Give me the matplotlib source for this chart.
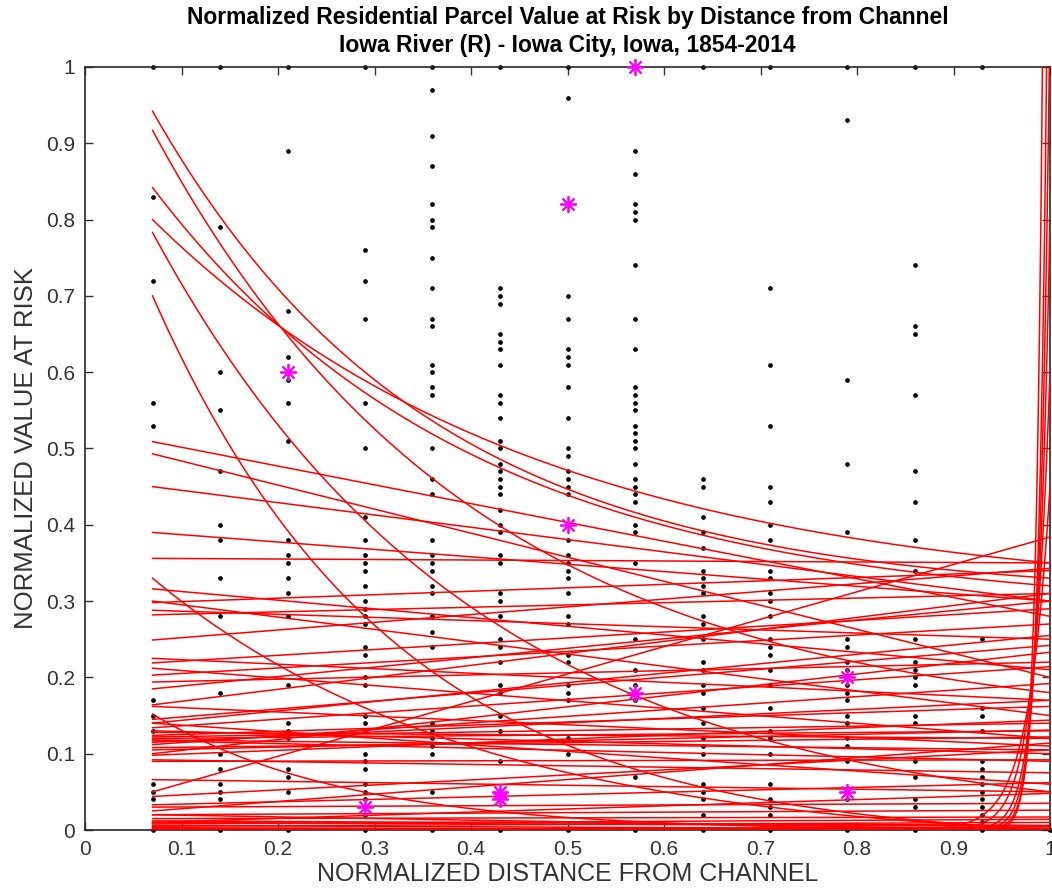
import numpy as np
import matplotlib
matplotlib.use('Agg')
import matplotlib.pyplot as plt

plt.rcParams['font.family'] = ['Liberation Sans', 'DejaVu Sans']

# distance columns (normalized) and parcel values found in each
col_x = [0.07, 0.14, 0.21, 0.29, 0.36, 0.43, 0.50, 0.57, 0.64, 0.71, 0.79, 0.86, 0.93, 1.00]
col_vals = [
    [1.0, 0.83, 0.72, 0.56, 0.53, 0.17, 0.15, 0.13, 0.06, 0.05, 0.04, 0.0],
    [1.0, 0.79, 0.60, 0.55, 0.47, 0.40, 0.38, 0.33, 0.28, 0.18, 0.10, 0.08, 0.06, 0.05, 0.04, 0.0],
    [1.0, 0.89, 0.68, 0.62, 0.59, 0.56, 0.51, 0.38, 0.36, 0.35, 0.33, 0.31, 0.28, 0.19, 0.14,
     0.13, 0.12, 0.08, 0.07, 0.05, 0.0],
    [1.0, 0.76, 0.72, 0.67, 0.56, 0.50, 0.41, 0.38, 0.36, 0.35, 0.34, 0.32, 0.30, 0.29, 0.28,
     0.27, 0.24, 0.23, 0.20, 0.19, 0.15, 0.14, 0.10, 0.09, 0.08, 0.06, 0.05, 0.04, 0.02, 0.0],
    [1.0, 0.97, 0.91, 0.87, 0.82, 0.80, 0.79, 0.75, 0.71, 0.67, 0.66, 0.61, 0.60, 0.58, 0.57,
     0.50, 0.46, 0.44, 0.38, 0.36, 0.35, 0.34, 0.32, 0.31, 0.28, 0.26, 0.24, 0.14, 0.13, 0.12,
     0.11, 0.10, 0.05, 0.0],
    [1.0, 0.71, 0.70, 0.69, 0.65, 0.64, 0.63, 0.61, 0.57, 0.56, 0.54, 0.51, 0.50, 0.48, 0.47,
     0.46, 0.45, 0.44, 0.42, 0.40, 0.39, 0.36, 0.35, 0.31, 0.30, 0.28, 0.25, 0.24, 0.22, 0.19,
     0.18, 0.15, 0.13, 0.09, 0.0],
    [1.0, 0.96, 0.70, 0.67, 0.63, 0.62, 0.61, 0.58, 0.54, 0.50, 0.49, 0.47, 0.46, 0.45, 0.44,
     0.38, 0.36, 0.35, 0.34, 0.33, 0.31, 0.28, 0.27, 0.23, 0.22, 0.19, 0.18, 0.17, 0.12, 0.10, 0.0],
    [0.89, 0.86, 0.82, 0.81, 0.80, 0.74, 0.67, 0.63, 0.58, 0.57, 0.56, 0.55, 0.53, 0.52, 0.51,
     0.50, 0.48, 0.46, 0.45, 0.44, 0.43, 0.40, 0.39, 0.35, 0.25, 0.21, 0.19, 0.17, 0.07, 0.0],
    [1.0, 0.46, 0.45, 0.41, 0.39, 0.37, 0.34, 0.33, 0.32, 0.31, 0.28, 0.27, 0.25, 0.22, 0.21,
     0.19, 0.18, 0.16, 0.14, 0.12, 0.11, 0.10, 0.06, 0.05, 0.04, 0.02, 0.0],
    [1.0, 0.71, 0.61, 0.53, 0.45, 0.43, 0.40, 0.38, 0.34, 0.33, 0.31, 0.30, 0.28, 0.25, 0.24,
     0.23, 0.21, 0.19, 0.16, 0.13, 0.12, 0.10, 0.06, 0.04, 0.03, 0.02, 0.0],
    [1.0, 0.93, 0.59, 0.48, 0.39, 0.25, 0.24, 0.22, 0.21, 0.19, 0.18, 0.17, 0.15, 0.14, 0.12,
     0.11, 0.09, 0.04, 0.0],
    [1.0, 0.74, 0.66, 0.65, 0.57, 0.47, 0.43, 0.38, 0.34, 0.25, 0.22, 0.21, 0.20, 0.19, 0.15,
     0.14, 0.09, 0.07, 0.04, 0.03, 0.0],
    [1.0, 0.25, 0.16, 0.15, 0.13, 0.09, 0.08, 0.07, 0.06, 0.05, 0.04, 0.03, 0.02, 0.01, 0.0],
    [0.0],
]

# highlighted points (magenta asterisks)
star_x = [0.21, 0.29, 0.43, 0.43, 0.50, 0.50, 0.57, 0.57, 0.79, 0.79]
star_y = [0.60, 0.03, 0.05, 0.04, 0.82, 0.40, 1.00, 0.18, 0.20, 0.05]

# fitted curves: value at x=0.07, value at x=1, exponential rate (0 = straight)
curve_start = [0.942, 0.917, 0.842, 0.800, 0.783, 0.700, 0.330, 0.152,
               0.509, 0.493, 0.450, 0.390, 0.356, 0.316, 0.298, 0.288, 0.282, 0.249,
               0.225, 0.219, 0.212, 0.203, 0.194, 0.164, 0.162, 0.145, 0.140, 0.134,
               0.130, 0.124, 0.120, 0.117, 0.112, 0.108, 0.100, 0.098, 0.092, 0.066,
               0.050, 0.044, 0.033, 0.030, 0.025, 0.020, 0.015, 0.010, 0.005, 0.000,
               0.003, 0.000, 0.128, 0.118, 0.122, 0.105, 0.090, 0.140, 0.020, 0.010,
               0.000, 0.002, 0.006, 0.012, 0.008, 0.300, 0.185, 0.115,
               0.000, 0.000, 0.000, 0.000, 0.000, 0.000]
curve_end = [0.33, 0.18, 0.32, 0.35, 0.05, 0.00, 0.00, 0.00,
             0.28, 0.20, 0.30, 0.30, 0.35, 0.21, 0.34, 0.25, 0.31, 0.343,
             0.17, 0.29, 0.12, 0.27, 0.22, 0.31, 0.11, 0.242, 0.06, 0.214,
             0.10, 0.162, 0.13, 0.09, 0.192, 0.122, 0.233, 0.144, 0.075, 0.05,
             0.384, 0.105, 0.062, 0.035, 0.114, 0.026, 0.017, 0.048, 0.01, 0.004,
             0.0, 0.0, 0.12, 0.105, 0.14, 0.131, 0.092, 0.255, 0.0, 0.005,
             0.002, 0.0, 0.001, 0.006, 0.014, 0.15, 0.30, 0.17,
             1.07, 1.5, 0.8, 3.0, 0.6, 0.45]
curve_k = [-3.5, -3.0, -3.0, -2.5, -3.0, -4.0, -3.0, -5.0,
           0, 0, 0, 0, 0, 0, 0, 0, 0, 0,
           0, 0, 0, 0, 0, 0, 0, 0, 0, 0,
           0, 0, 0, 0, 0, 0, 0, 0, 0, 0,
           0, 0, 0, 0, 0, 0, 0, 0, 0, 0,
           0, 0, 0, 0, 0, 0, 0, 0, 0, 0,
           0, 0, 0, 0, 0, 0, 0, 0,
           97, 115, 80, 140, 60, 45]


def fit_curve(xs, y0, y1, k):
    if k == 0:
        return y0 + (y1 - y0) * (xs - 0.07) / 0.93
    g = np.exp(k * (xs - 1.0))
    g0 = np.exp(k * (0.07 - 1.0))
    a = (y0 - y1) / (g0 - 1.0)
    return y1 + a * (g - 1.0)


fig = plt.figure(figsize=(10.52, 8.92), dpi=100)
ax = fig.add_axes([0.0808, 0.0695, 0.9173, 0.8554])

for cx, vals in zip(col_x, col_vals):
    ax.plot([cx] * len(vals), vals, 'o', color='k', ms=3.4, mew=0, zorder=2, clip_on=False)

xs = np.linspace(0.07, 1.0, 600)
for y0, y1, k in zip(curve_start, curve_end, curve_k):
    ax.plot(xs, fit_curve(xs, y0, y1, k), color='red', lw=1.1, zorder=3)

ax.plot(star_x, star_y, ls='none', marker=(8, 2, 0), ms=12, mew=1.3,
        color='magenta', zorder=4, clip_on=False)

ax.set_xlim(0, 1)
ax.set_ylim(0, 1)
ticks = np.arange(0, 1.01, 0.1)
labels = ['0'] + ['%.1f' % t for t in ticks[1:-1]] + ['1']
ax.set_xticks(ticks)
ax.set_xticklabels(labels)
ax.set_yticks(ticks)
ax.set_yticklabels(labels)
ax.tick_params(direction='in', length=6, width=1, top=True, right=True,
               labelsize=15, colors='#333333', pad=7)
for s in ax.spines.values():
    s.set_color('#262626')
    s.set_linewidth(1.2)

ax.set_xlabel('NORMALIZED DISTANCE FROM CHANNEL', fontsize=18, color='#333333', labelpad=2)
ax.set_ylabel('NORMALIZED VALUE AT RISK', fontsize=18.5, color='#333333', labelpad=6)
ax.set_title('Normalized Residential Parcel Value at Risk by Distance from Channel\n'
             'Iowa River (R) - Iowa City, Iowa, 1854-2014',
             fontsize=16.5, fontweight='bold', color='k', pad=11, linespacing=1.25)

fig.savefig('out.png', dpi=100, facecolor='white')
